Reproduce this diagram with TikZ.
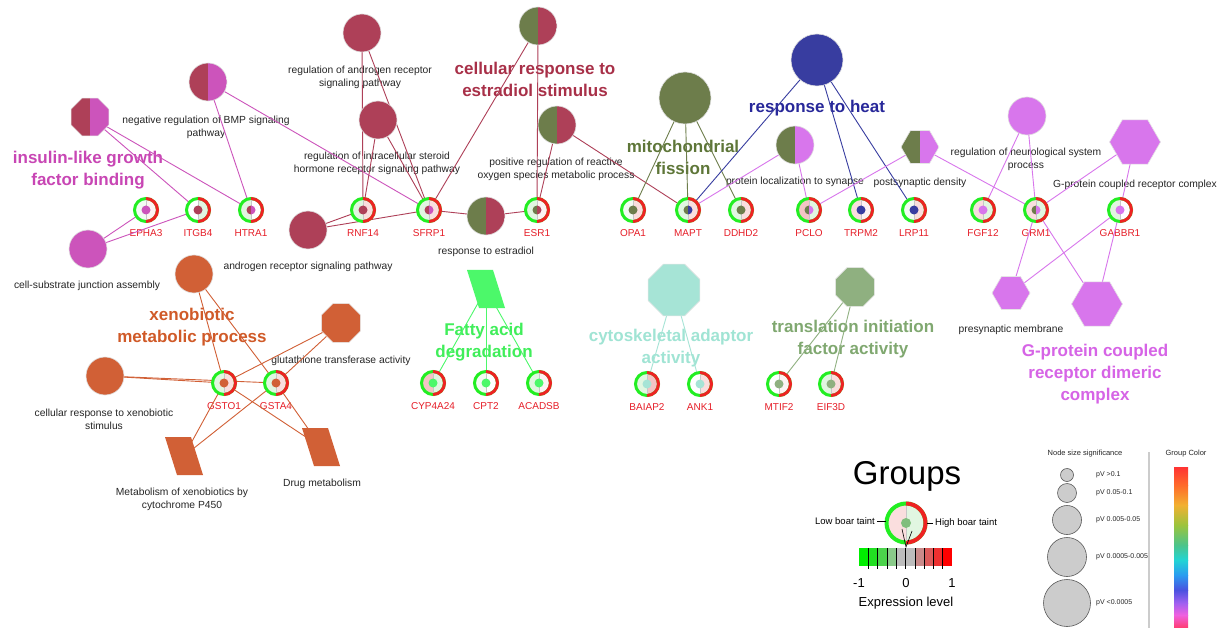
\documentclass[tikz,border=0pt]{standalone}
\usepackage{fontspec}
\setmainfont{Liberation Sans}
\usetikzlibrary{shapes.geometric,backgrounds}
\pgfdeclarelayer{bgzero}
\pgfdeclarelayer{background}
\pgfsetlayers{bgzero,background,main}
\definecolor{cMaroon}{RGB}{174,64,88}
\definecolor{cMagenta}{RGB}{204,84,187}
\definecolor{cOlive}{RGB}{109,125,75}
\definecolor{cBlue}{RGB}{56,61,160}
\definecolor{cViolet}{RGB}{216,118,236}
\definecolor{cOrange}{RGB}{209,96,54}
\definecolor{cGreen}{RGB}{76,248,106}
\definecolor{cTeal}{RGB}{166,228,214}
\definecolor{cSage}{RGB}{143,176,128}
\definecolor{lMagenta}{RGB}{200,70,180}
\definecolor{lMaroon}{RGB}{168,48,72}
\definecolor{lOlive}{RGB}{94,118,56}
\definecolor{lBlue}{RGB}{40,40,154}
\definecolor{lViolet}{RGB}{214,100,230}
\definecolor{lOrange}{RGB}{208,90,40}
\definecolor{lGreen}{RGB}{64,238,90}
\definecolor{lTeal}{RGB}{160,228,212}
\definecolor{lSage}{RGB}{128,168,112}
\definecolor{geneRed}{RGB}{230,30,40}
\definecolor{ringG}{RGB}{34,238,34}
\definecolor{ringR}{RGB}{238,34,34}
\definecolor{lgreen}{RGB}{225,246,225}
\definecolor{wgreen}{RGB}{243,251,243}
\definecolor{lpink}{RGB}{250,222,222}
\definecolor{wpink}{RGB}{253,243,243}
\definecolor{pink}{RGB}{244,196,196}
\definecolor{lgdot}{RGB}{128,190,125}
\definecolor{eb0}{RGB}{0,238,0}
\definecolor{eb1}{RGB}{34,224,34}
\definecolor{eb2}{RGB}{76,212,76}
\definecolor{eb3}{RGB}{138,202,138}
\definecolor{eb4}{RGB}{189,189,189}
\definecolor{eb5}{RGB}{189,189,189}
\definecolor{eb6}{RGB}{202,138,138}
\definecolor{eb7}{RGB}{220,90,90}
\definecolor{eb8}{RGB}{238,48,48}
\definecolor{eb9}{RGB}{255,0,0}
\definecolor{gb0}{RGB}{255,51,51}
\definecolor{gb1}{RGB}{255,106,42}
\definecolor{gb2}{RGB}{242,176,48}
\definecolor{gb3}{RGB}{156,196,60}
\definecolor{gb4}{RGB}{76,196,138}
\definecolor{gb5}{RGB}{34,212,212}
\definecolor{gb6}{RGB}{42,156,240}
\definecolor{gb7}{RGB}{74,82,224}
\definecolor{gb8}{RGB}{160,96,240}
\definecolor{gb9}{RGB}{240,96,224}
\definecolor{gb10}{RGB}{255,60,110}
\tikzset{
  termc/.style={circle, inner sep=0, outer sep=0, minimum size=#1, draw=black!12, line width=0.6pt},
  termoct/.style={regular polygon, regular polygon sides=8, inner sep=0, outer sep=0, minimum size=#1, draw=black!10, line width=0.6pt},
  termhex/.style={regular polygon, regular polygon sides=6, inner sep=0, outer sep=0, minimum size=#1, draw=black!10, line width=0.6pt},
  split/.style 2 args={path picture={
      \fill[#1] (path picture bounding box.south west) rectangle (path picture bounding box.north);
      \fill[#2] (path picture bounding box.south) rectangle (path picture bounding box.north east);}},
  gene/.style={circle, minimum size=23pt, inner sep=0, outer sep=0, draw=ringG, line width=3pt},
  ringred/.style={draw=ringR, line width=3pt},
  termlab/.style={font=\fontsize{10.3}{13}\selectfont, text=black!85, align=center, inner sep=0},
  genelab/.style={font=\fontsize{10}{12}\selectfont, text=geneRed, inner sep=0},
  grplab/.style={font=\bfseries\fontsize{17}{22}\selectfont, align=center, inner sep=0},
  edge/.style={line width=0.9pt},
  smalllab/.style={font=\fontsize{7}{8}\selectfont, text=black!85, inner sep=0},
}
\newcommand\gn[8]{%
  \node[gene, path picture={
      \fill[#5] (path picture bounding box.south west) rectangle (path picture bounding box.north);
      \fill[#6] (path picture bounding box.south) rectangle (path picture bounding box.north east);}] (#1) at (#2,#3) {};
  \draw[ringred] (#1.south) arc[start angle=-90,end angle=90,radius=11.5pt];
  \draw[black!22,line width=0.4pt] ([yshift=-1.5pt]#1.north) -- ([yshift=1.5pt]#1.south);
  \fill[#7] ([yshift=4.5pt]#1.center) arc[start angle=90,end angle=270,radius=4.5pt] -- cycle;
  \fill[#8] ([yshift=-4.5pt]#1.center) arc[start angle=-90,end angle=90,radius=4.5pt] -- cycle;
  \begin{pgfonlayer}{background}
  \node[genelab] (#1-l) at (#2,{#3+23}) {#4};
  \end{pgfonlayer}
}
\newcommand\para[4]{%
  \node[inner sep=0, outer sep=0, minimum width=26pt, minimum height=38pt] (#1) at (#2,#3) {};
  \fill[#4] ([xshift=-19pt]#1.north) -- ([xshift=7pt]#1.north) -- ([xshift=19pt]#1.south) -- ([xshift=-7pt]#1.south) -- cycle;
}
\begin{document}
\begin{tikzpicture}[x=1pt,y=-1pt]
\useasboundingbox (0,0) rectangle (1228,628);
\begin{pgfonlayer}{bgzero}
\fill[white] (0,0) rectangle (1228,628);
\end{pgfonlayer}

% ---------- term nodes ----------
\node[termc=38, split={cMaroon}{cMagenta}] (bmp) at (208,82) {};
\node[termoct=41, split={cMaroon}{cMagenta}] (igf) at (90,117) {};
\node[termc=38, fill=cMagenta] (csja) at (88,249) {};
\node[termc=38, fill=cMaroon] (rarsp) at (362,33) {};
\node[termc=38, fill=cMaroon] (risr) at (378,120) {};
\node[termc=38, fill=cMaroon] (arsp) at (308,230) {};
\node[termc=38, split={cOlive}{cMaroon}] (cres) at (538,26) {};
\node[termc=38, split={cOlive}{cMaroon}] (ros) at (557,125) {};
\node[termc=38, split={cOlive}{cMaroon}] (rest) at (486,216) {};
\node[termc=52, fill=cOlive] (mito) at (685,98) {};
\node[termc=52, fill=cBlue] (heat) at (817,60) {};
\node[termc=38, split={cOlive}{cViolet}] (pls) at (795,145) {};
\node[termhex=38, split={cOlive}{cViolet}] (psd) at (920,147) {};
\node[termc=38, fill=cViolet] (rnsp) at (1027,116) {};
\node[termhex=51, fill=cViolet] (gpcr) at (1135,142) {};
\node[termhex=38, fill=cViolet] (psm) at (1011,293) {};
\node[termhex=51, fill=cViolet] (gpcrd) at (1097,304) {};
\node[termc=38, fill=cOrange] (xeno) at (194,274) {};
\node[termoct=42, fill=cOrange] (gta) at (341,323) {};
\node[termc=38, fill=cOrange] (crx) at (105,376) {};
\para{p450}{184}{456}{cOrange}
\para{drug}{321}{447}{cOrange}
\para{fad}{486}{289}{cGreen}
\node[termoct=56, fill=cTeal] (cyto) at (674,290) {};
\node[termoct=42, fill=cSage] (tif) at (855,287) {};

% ---------- genes ----------
\gn{EPHA3}{146}{210}{EPHA3}{wgreen}{wpink}{cMagenta}{cMagenta}
\gn{ITGB4}{198}{210}{ITGB4}{white}{lgreen}{cMaroon}{cMaroon}
\gn{HTRA1}{251}{210}{HTRA1}{lgreen}{white}{cMaroon}{cMagenta}
\gn{RNF14}{363}{210}{RNF14}{lgreen}{lpink}{cMaroon}{cMaroon}
\gn{SFRP1}{429}{210}{SFRP1}{lgreen}{lpink}{cMaroon}{cMagenta}
\gn{ESR1}{537}{210}{ESR1}{lgreen}{wpink}{cOlive}{cMaroon}
\gn{OPA1}{633}{210}{OPA1}{wgreen}{lpink}{cOlive}{cOlive}
\gn{MAPT}{688}{210}{MAPT}{lgreen}{lpink}{cOlive}{cBlue}
\gn{DDHD2}{741}{210}{DDHD2}{lgreen}{lpink}{cOlive}{cOlive}
\gn{PCLO}{809}{210}{PCLO}{pink}{lgreen}{cOlive}{cViolet}
\gn{TRPM2}{861}{210}{TRPM2}{lpink}{wpink}{cBlue}{cBlue}
\gn{LRP11}{914}{210}{LRP11}{wgreen}{lpink}{cBlue}{cBlue}
\gn{FGF12}{983}{210}{FGF12}{lpink}{lgreen}{cViolet}{cViolet}
\gn{GRM1}{1036}{210}{GRM1}{lpink}{lgreen}{cOlive}{cViolet}
\gn{GABBR1}{1120}{210}{GABBR1}{lgreen}{white}{cViolet}{cViolet}
\gn{GSTO1}{224}{383}{GSTO1}{lgreen}{lpink}{cOrange}{cOrange}
\gn{GSTA4}{276}{383}{GSTA4}{lgreen}{lpink}{cOrange}{cOrange}
\gn{CYP4A24}{433}{383}{CYP4A24}{pink}{lgreen}{cGreen}{cGreen}
\gn{CPT2}{486}{383}{CPT2}{wgreen}{white}{cGreen}{cGreen}
\gn{ACADSB}{539}{383}{ACADSB}{lgreen}{wpink}{cGreen}{cGreen}
\gn{BAIAP2}{647}{384}{BAIAP2}{lgreen}{pink}{cTeal}{cTeal}
\gn{ANK1}{700}{384}{ANK1}{white}{lpink}{cTeal}{cTeal}
\gn{MTIF2}{779}{384}{MTIF2}{white}{wpink}{cSage}{cSage}
\gn{EIF3D}{831}{384}{EIF3D}{lgreen}{lpink}{cSage}{cSage}

\begin{pgfonlayer}{background}
% ---------- term labels ----------
\node[termlab] (bmp-l) at (206,127.5) {negative regulation of BMP signaling\\pathway};
\node[termlab] (rarsp-l) at (360,77) {regulation of androgen receptor\\signaling pathway};
\node[termlab] (risr-l) at (377,163.5) {regulation of intracellular steroid\\hormone receptor signaling pathway};
\node[termlab] (arsp-l) at (308,267) {androgen receptor signaling pathway};
\node[termlab] (csja-l) at (87,286) {cell-substrate junction assembly};
\node[termlab] (ros-l) at (556,169.5) {positive regulation of reactive\\oxygen species metabolic process};
\node[termlab] (rest-l) at (486,252) {response to estradiol};
\node[termlab] (pls-l) at (795,182) {protein localization to synapse};
\node[termlab] (psd-l) at (920,183) {postsynaptic density};
\node[termlab] (rnsp-l) at (1026,159.5) {regulation of neurological system\\process};
\node[termlab] (gpcr-l) at (1135,185) {G-protein coupled receptor complex};
\node[termlab] (psm-l) at (1011,330) {presynaptic membrane};
\node[termlab] (gta-l) at (341,361) {glutathione transferase activity};
\node[termlab] (crx-l) at (104,419.5) {cellular response to xenobiotic\\stimulus};
\node[termlab] (p450-l) at (182,499.5) {Metabolism of xenobiotics by\\cytochrome P450};
\node[termlab] (drug-l) at (322,484) {Drug metabolism};

% ---------- group labels ----------
\node[grplab, text=lMagenta] (igf-g) at (88,170) {insulin-like growth\\factor binding};
\node[grplab, text=lMaroon] (cres-g) at (535,79) {cellular response to\\estradiol stimulus};
\node[grplab, text=lOlive] (mito-g) at (683,157.5) {mitochondrial\\fission};
\node[grplab, text=lBlue] (heat-g) at (817,108) {response to heat};
\node[grplab, text=lViolet] (gpcrd-g) at (1095,374.5) {G-protein coupled\\receptor dimeric\\complex};
\node[grplab, text=lOrange] (xeno-g) at (192,327) {xenobiotic\\metabolic process};
\node[grplab, text=lGreen] (fad-g) at (484,342) {Fatty acid\\degradation};
\node[grplab, text=lTeal] (cyto-g) at (671,348.5) {cytoskeletal adaptor\\activity};
\node[grplab, text=lSage] (tif-g) at (853,339) {translation initiation\\factor activity};

% ---------- edges ----------
\draw[edge, cMagenta] (igf.center) -- (ITGB4.center);
\draw[edge, cMagenta] (igf.center) -- (HTRA1.center);
\draw[edge, cMagenta] (bmp.center) -- (HTRA1.center);
\draw[edge, cMagenta] (bmp.center) -- (SFRP1.center);
\draw[edge, cMagenta] (csja.center) -- (EPHA3.center);
\draw[edge, cMagenta] (csja.center) -- (ITGB4.center);
\foreach \a/\b in {rarsp/RNF14, rarsp/SFRP1, risr/RNF14, risr/SFRP1, arsp/RNF14, arsp/SFRP1, cres/SFRP1, cres/ESR1, rest/SFRP1, rest/ESR1, ros/ESR1, ros/MAPT}
  \draw[edge, cMaroon] (\a.center) -- (\b.center);
\foreach \b in {OPA1, MAPT, DDHD2} \draw[edge, cOlive] (mito.center) -- (\b.center);
\foreach \b in {MAPT, TRPM2, LRP11} \draw[edge, cBlue] (heat.center) -- (\b.center);
\foreach \a/\b in {pls/MAPT, pls/PCLO, psd/PCLO, psd/GRM1, rnsp/FGF12, rnsp/GRM1, gpcr/GRM1, gpcr/GABBR1, psm/GRM1, psm/GABBR1, gpcrd/GRM1, gpcrd/GABBR1}
  \draw[edge, cViolet] (\a.center) -- (\b.center);
\foreach \a in {xeno, gta, crx, p450, drug} {
  \draw[edge, cOrange] (\a.center) -- (GSTO1.center);
  \draw[edge, cOrange] (\a.center) -- (GSTA4.center);}
\foreach \b in {CYP4A24, CPT2, ACADSB} \draw[edge, cGreen] (fad.center) -- (\b.center);
\foreach \b in {BAIAP2, ANK1} \draw[edge, cTeal] (cyto.center) -- (\b.center);
\foreach \b in {MTIF2, EIF3D} \draw[edge, cSage] (tif.center) -- (\b.center);
\end{pgfonlayer}

% ---------- legend: groups ----------
\node[inner sep=0, font=\fontsize{33}{36}\selectfont] (groups) at (907,476) {Groups};
\node[circle, minimum size=39pt, inner sep=0, outer sep=0, draw=ringG, line width=4pt,
  path picture={\fill[lpink] (path picture bounding box.south west) rectangle (path picture bounding box.north);
  \fill[lgreen] (path picture bounding box.south) rectangle (path picture bounding box.north east);}] (lg) at (906,523) {};
\draw[draw=ringR, line width=4pt] (lg.south) arc[start angle=-90,end angle=90,radius=19.5pt];
\draw[black!22, line width=0.4pt] ([yshift=-2pt]lg.north) -- ([yshift=2pt]lg.south);
\fill[lgdot] (lg.center) circle[radius=5pt];
\node[inner sep=0, anchor=east, font=\fontsize{9.5}{11}\selectfont] (lowlab) at (875,521) {Low boar taint};
\node[inner sep=0, anchor=west, font=\fontsize{9.5}{11}\selectfont] (highlab) at (935,523) {High boar taint};
\draw[line width=0.6pt] ([xshift=2pt]lowlab.east) -- ([xshift=-1pt]lowlab.east -| lg.west);
\draw[line width=0.6pt] ([xshift=-2pt]highlab.west) -- ([xshift=1pt]highlab.west -| lg.east);
\coordinate (vl) at (902,529);
\coordinate (vtip) at (906,547);
\coordinate (vr) at (912,531);
\draw[line width=0.6pt] (vl) -- (vtip) -- (vr);
\foreach \c [count=\i from 0] in {eb0,eb1,eb2,eb3,eb4,eb5,eb6,eb7,eb8,eb9}
  \fill[\c] ({859+\i*9.3},548) rectangle ({859+(\i+1)*9.3},566);
\foreach \i in {1,...,9}
  \draw[black, line width=0.6pt] ({859+\i*9.3},548) -- ({859+\i*9.3},569);
\node[inner sep=0, font=\fontsize{13}{15}\selectfont] (tm1) at (859,583) {-1};
\node[inner sep=0, font=\fontsize{13}{15}\selectfont] (t0) at (906,583) {0};
\node[inner sep=0, font=\fontsize{13}{15}\selectfont] (tp1) at (952,583) {1};
\node[inner sep=0, font=\fontsize{13}{15}\selectfont] (exl) at (906,603) {Expression level};

% ---------- legend: size ----------
\node[smalllab, font=\fontsize{7.5}{9}\selectfont] (nss) at (1085,454) {Node size significance};
\node[smalllab, font=\fontsize{7.5}{9}\selectfont] (gcol) at (1186,454) {Group Color};
\coordinate (sepT) at (1149,452);
\coordinate (sepB) at (1149,628);
\draw[black!20, line width=1.5pt] (sepT) -- (sepB);
\foreach \y/\d/\t [count=\i] in {475/13/{pV >0.1}, 493/19/{pV 0.05-0.1}, 520/29/{pV 0.005-0.05}, 557/39/{pV 0.0005-0.005}, 603/47/{pV <0.0005}} {
  \node[circle, minimum size=\d pt, inner sep=0, fill=black!20, draw=black!65, line width=0.6pt] (sz\i) at (1067,\y) {};
  \node[smalllab, anchor=west] (szl\i) at (1096,\y) {\t};
}
% gradient bar
\foreach \ya/\yb/\ca/\cb in {467/485/gb0/gb1, 485/505/gb1/gb2, 505/525/gb2/gb3, 525/545/gb3/gb4, 545/560/gb4/gb5, 560/575/gb5/gb6, 575/590/gb6/gb7, 590/603/gb7/gb8, 603/615/gb8/gb9, 615/628/gb9/gb10}
  \shade[top color=\ca, bottom color=\cb] (1174,\ya) rectangle (1188,\yb);
\end{tikzpicture}
\end{document}
